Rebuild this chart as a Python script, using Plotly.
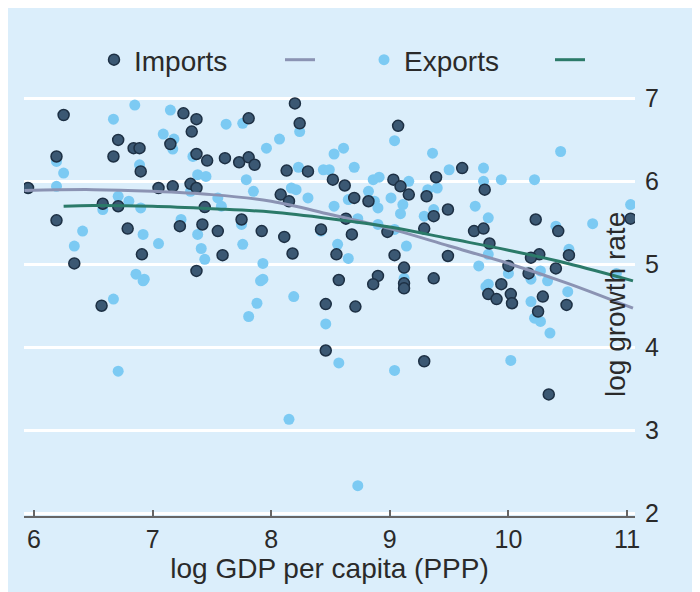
import plotly.graph_objects as go

# ---- data ----
imports_x = [6.25, 6.71, 7.26, 7.37, 7.33, 6.67, 6.84, 6.89, 6.19, 7.15, 7.37, 7.46, 6.90, 5.95,
             7.05, 7.17, 7.32, 7.37, 6.71, 6.19, 6.79, 7.42, 7.55, 6.91, 6.34, 7.37, 6.58, 7.44,
             6.57, 8.20, 7.81, 8.24, 9.07, 7.61, 7.73, 7.81, 7.86, 8.13, 8.31, 8.52, 8.62, 8.70,
             9.03, 9.09, 9.16, 8.82, 8.08, 8.15, 7.75, 7.92, 8.11, 8.42, 8.68, 8.98, 7.59, 8.18,
             8.55, 9.04, 9.12, 8.57, 8.90, 8.86, 9.12, 8.63, 9.61, 9.39, 9.31, 9.80, 9.49, 9.37,
             9.29, 10.23, 9.71, 9.79, 11.03, 10.42, 9.49, 9.84, 10.26, 10.51, 10.19, 10.00, 10.40,
             9.37, 9.94, 10.17, 8.46, 8.71, 8.46, 9.29, 9.12, 9.83, 9.90, 10.02, 10.03, 10.29,
             10.49, 10.34, 10.25, 7.23]
imports_y = [6.80, 6.50, 6.82, 6.75, 6.60, 6.30, 6.40, 6.40, 6.30, 6.45, 6.33, 6.25, 6.12, 5.92,
             5.92, 5.94, 5.97, 5.92, 5.70, 5.53, 5.43, 5.48, 5.40, 5.12, 5.01, 4.92, 5.73, 5.69,
             4.50, 6.94, 6.76, 6.70, 6.67, 6.28, 6.23, 6.29, 6.20, 6.13, 6.12, 6.02, 5.95, 5.80,
             6.02, 5.94, 5.84, 5.76, 5.84, 5.76, 5.54, 5.40, 5.33, 5.42, 5.36, 5.39, 5.11, 5.13,
             5.12, 5.11, 4.96, 4.81, 4.86, 4.76, 4.77, 5.55, 6.16, 6.05, 5.82, 5.90, 5.66, 5.58,
             5.43, 5.54, 5.40, 5.43, 5.55, 5.40, 5.10, 5.25, 5.12, 5.11, 5.08, 4.98, 4.95,
             4.83, 4.76, 4.89, 4.52, 4.49, 3.96, 3.83, 4.71, 4.64, 4.58, 4.64, 4.53, 4.61,
             4.51, 3.43, 4.43, 5.46]

exports_x = [6.85, 6.67, 7.15, 7.09, 7.18, 7.17, 6.19, 6.25, 6.89, 7.34, 7.38, 7.45, 6.19, 6.71,
             6.58, 6.80, 6.90, 7.32, 7.55, 7.24, 7.38, 7.41, 6.41, 6.34, 7.05, 6.92, 7.44, 6.86,
             6.93, 7.62, 7.76, 8.24, 8.07, 7.96, 8.53, 8.61, 9.04, 7.79, 8.23, 8.44, 8.49, 8.70,
             8.86, 8.91, 9.16, 7.85, 8.17, 8.21, 8.31, 8.53, 8.65, 8.82, 8.87, 8.90, 9.01, 9.11,
             9.09, 8.73, 8.90, 9.04, 8.42, 8.56, 9.14, 7.75, 7.76, 7.58, 7.93, 7.93, 8.65, 9.12,
             9.36, 10.44, 9.50, 9.79, 9.94, 10.22, 9.79, 9.32, 9.40, 11.03, 10.71, 9.72, 9.83,
             10.40, 9.37, 9.29, 9.75, 10.51, 9.83, 10.00, 10.27, 10.33, 10.19, 9.83, 10.91,
             8.46, 8.57, 9.04, 10.02, 8.73, 10.19, 10.22, 10.27, 10.35, 10.50, 9.81,
             6.67, 6.71, 7.88, 7.81, 8.19, 8.15, 6.92, 7.91]
exports_y = [6.92, 6.75, 6.86, 6.57, 6.51, 6.39, 6.24, 6.10, 6.20, 6.30, 6.08, 6.06, 5.94, 5.82,
             5.66, 5.76, 5.68, 5.88, 5.80, 5.54, 5.36, 5.19, 5.40, 5.22, 5.25, 5.36, 5.06, 4.88,
             4.82, 6.69, 6.70, 6.60, 6.51, 6.40, 6.33, 6.40, 6.49, 6.02, 6.17, 6.14, 6.14, 6.17,
             6.02, 6.05, 6.00, 5.88, 5.92, 5.90, 5.80, 5.70, 5.78, 5.88, 5.76, 5.68, 5.80, 5.72,
             5.61, 5.55, 5.48, 5.42, 5.40, 5.24, 5.22, 5.48, 5.24, 5.70, 5.01, 4.82, 5.07, 4.83,
             6.34, 6.36, 6.14, 6.16, 6.02, 6.02, 6.00, 5.90, 5.92, 5.72, 5.49, 5.70, 5.56,
             5.46, 5.66, 5.58, 4.98, 5.18, 5.12, 4.89, 4.92, 4.80, 4.82, 4.76, 4.89,
             4.28, 3.81, 3.72, 3.84, 2.33, 4.55, 4.35, 4.31, 4.17, 4.67, 4.73,
             4.58, 3.71, 4.53, 4.37, 4.61, 3.13, 4.80, 4.80]

imports_fit_x = [5.92, 6.5, 7.0, 7.5, 8.0, 8.5, 9.0, 9.5, 10.0, 10.5, 11.05]
imports_fit_y = [5.89, 5.90, 5.88, 5.84, 5.76, 5.60, 5.43, 5.22, 5.01, 4.77, 4.47]
exports_fit_x = [6.25, 6.5, 7.0, 7.5, 8.0, 8.5, 9.0, 9.5, 10.0, 10.5, 11.05]
exports_fit_y = [5.70, 5.71, 5.70, 5.67, 5.63, 5.55, 5.45, 5.31, 5.17, 5.01, 4.80]

x_ticks = [6, 7, 8, 9, 10, 11]
y_ticks = [2, 3, 4, 5, 6, 7]

x_title = "log GDP per capita (PPP)"
y_title = "log growth rate"

# ---- styling ----
BG = "#dbeefb"
FONT = "Liberation Sans, Arial, sans-serif"
TXT = "#2a2a2a"
L, R, T, B = 16, 73, 78, 84
PW, PH = 700 - L - R, 592 - T - B
BOTTOM = 592 - B

fig = go.Figure()
fig.add_trace(go.Scatter(
    x=exports_x, y=exports_y, mode="markers", name="Exports",
    marker=dict(size=11, color="#7ccaf3"),
    legendrank=3, legendwidth=141))
fig.add_trace(go.Scatter(
    x=imports_x, y=imports_y, mode="markers", name="Imports",
    marker=dict(size=11, color="#3b5873", line=dict(color="#1d3044", width=1.5)),
    legendrank=1, legendwidth=141))
fig.add_trace(go.Scatter(
    x=imports_fit_x, y=imports_fit_y, mode="lines", name=" ",
    line=dict(color="#8b93b3", width=3, shape="spline"),
    legendrank=2, legendwidth=39))
fig.add_trace(go.Scatter(
    x=exports_fit_x, y=exports_fit_y, mode="lines", name=" ",
    line=dict(color="#2b7a69", width=3, shape="spline"),
    legendrank=4, legendwidth=39))

fig.update_layout(
    width=700, height=592,
    margin=dict(l=L, r=R, t=T, b=B, autoexpand=False),
    paper_bgcolor=BG, plot_bgcolor=BG,
    font=dict(family=FONT, color=TXT),
    showlegend=True,
    legend=dict(
        orientation="h", xref="paper", yref="paper",
        x=(86 - L) / PW, xanchor="left", y=(BOTTOM - 52) / PH, yanchor="middle",
        bgcolor="rgba(0,0,0,0)", borderwidth=0,
        font=dict(size=28, color=TXT, family=FONT),
        traceorder="normal",
    ),
    xaxis=dict(
        range=[5.916, 11.067], tickvals=x_ticks, ticktext=[str(v) for v in x_ticks],
        ticks="inside", ticklen=6, tickwidth=1.5, tickcolor="#666",
        showline=True, linecolor="#666", linewidth=2,
        showgrid=False, zeroline=False,
        tickfont=dict(size=25, color=TXT),
        ticklabelstandoff=0, automargin=False,
        title=dict(text=x_title, font=dict(size=28, color=TXT), standoff=3),
    ),
    yaxis=dict(
        range=[1.964, 7.15], tickvals=y_ticks, ticktext=[str(v) for v in y_ticks],
        side="right", ticks="", showline=False,
        showgrid=True, gridcolor="white", gridwidth=3, zeroline=False,
        tickfont=dict(size=25, color=TXT),
        ticklabelstandoff=9, automargin=False,
    ),
    annotations=[dict(
        text=y_title, xref="paper", yref="paper", x=(607 - L) / PW, y=(BOTTOM - 297) / PH,
        textangle=-90, showarrow=False, xanchor="center", yanchor="middle",
        font=dict(size=28, color=TXT, family=FONT),
    )],
)

fig.write_html("out.html")
